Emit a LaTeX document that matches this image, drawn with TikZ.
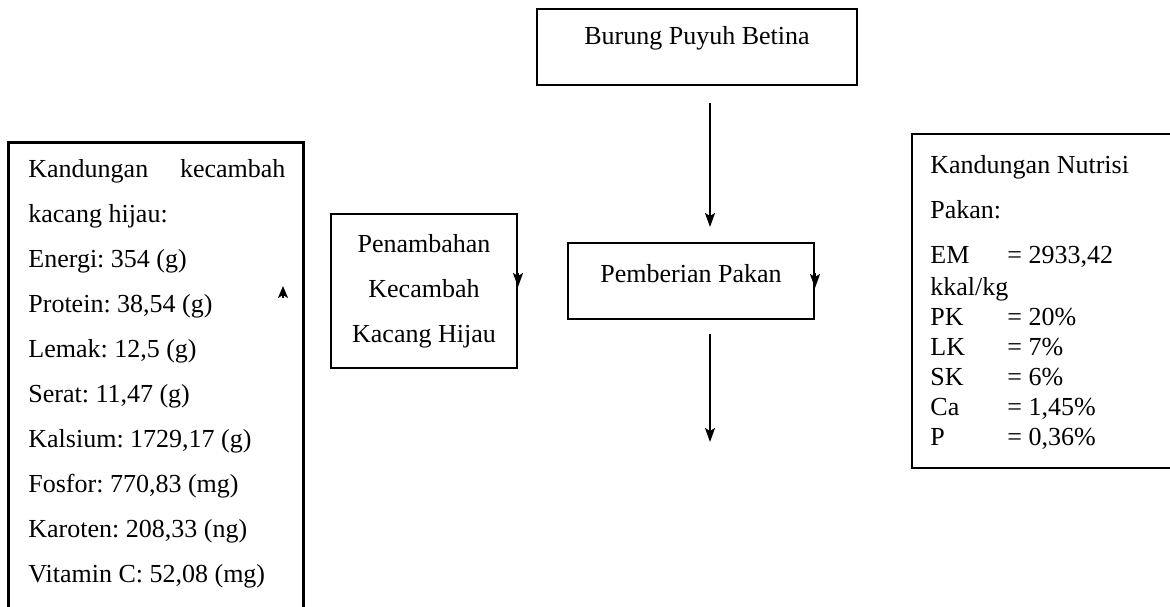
\documentclass[tikz,border=0pt]{standalone}
\usepackage{fontspec}
\setmainfont{Liberation Serif}
\usetikzlibrary{arrows.meta}
\frenchspacing

\tikzset{
	kotak/.style={draw, line width=1pt, align=center, inner sep=0pt, font=\fontsize{13}{22.5}\selectfont},
	isi/.style={anchor=north west, inner sep=0pt, align=left},
	panah/.style={-{Stealth[length=7pt,width=5pt,inset=1.5pt]}, line width=0.9pt},
	ujung/.style={-{Stealth[length=7pt,width=5pt,inset=1.5pt]}, line width=0.9pt},
	ujungkecil/.style={-{Stealth[length=6pt,width=5pt,inset=1.5pt]}, line width=0.9pt}
}

\begin{document}
\begin{tikzpicture}[x=0.5pt,y=-0.5pt]
				\useasboundingbox (0,0) rectangle (1170,606);
				\clip (0,0) rectangle (1170,606);
				\coordinate (sumbu) at (710,0);
				\coordinate (akhir) at (710,442);
				\coordinate (tanda) at (283,298);
				\node[kotak, minimum width=160pt, minimum height=38pt, text height=9pt, text depth=12pt] (brg) at (697,47) {Burung Puyuh Betina};
				\node[kotak, minimum width=93pt, minimum height=77pt] (pnb) at (424,291) {Penambahan\\Kecambah\\Kacang Hijau};
				\node[kotak, minimum width=123pt, minimum height=38pt, text height=9pt, text depth=8pt] (pmb) at (691,281) {Pemberian Pakan};
				\draw[line width=1.5pt] (8,142) rectangle (303,650);
				\node[isi, font=\fontsize{13}{22.5}\selectfont] (kcb) at (28,159) {\makebox[128.5pt][s]{Kandungan kecambah}\\kacang hijau:\\Energi: 354 (g)\\Protein: 38,54 (g)\\Lemak: 12,5 (g)\\Serat: 11,47 (g)\\Kalsium: 1729,17 (g)\\Fosfor: 770,83 (mg)\\Karoten: 208,33 (ng)\\Vitamin C: 52,08 (mg)};
				\draw[line width=1pt] (912,134) rectangle (1190,468);
				\node[isi, font=\fontsize{13}{15}\selectfont] (nts) at (930,155) {Kandungan Nutrisi\\[7.5pt]Pakan:\\[7.5pt]\makebox[38.5pt][l]{EM}= 2933,42\\[1pt]kkal/kg\\\makebox[38.5pt][l]{PK}= 20\%\\\makebox[38.5pt][l]{LK}= 7\%\\\makebox[38.5pt][l]{SK}= 6\%\\\makebox[38.5pt][l]{Ca}= 1,45\%\\\makebox[38.5pt][l]{P}= 0,36\%};
				\draw[panah, shorten <=8.5pt, shorten >=7.5pt] (brg.south -| sumbu) -- (pmb.north -| sumbu);
				\draw[panah, shorten <=7pt] (pmb.south -| sumbu) -- (akhir);
				\draw[ujung] ([yshift=9pt]pnb.east) -- ([yshift=2pt]pnb.east);
				\draw[ujung] ([yshift=4pt]pmb.east) -- ([yshift=-3.5pt]pmb.east);
				\draw[ujungkecil] (tanda) -- ++(0,-12);
			\end{tikzpicture}
\end{document}
